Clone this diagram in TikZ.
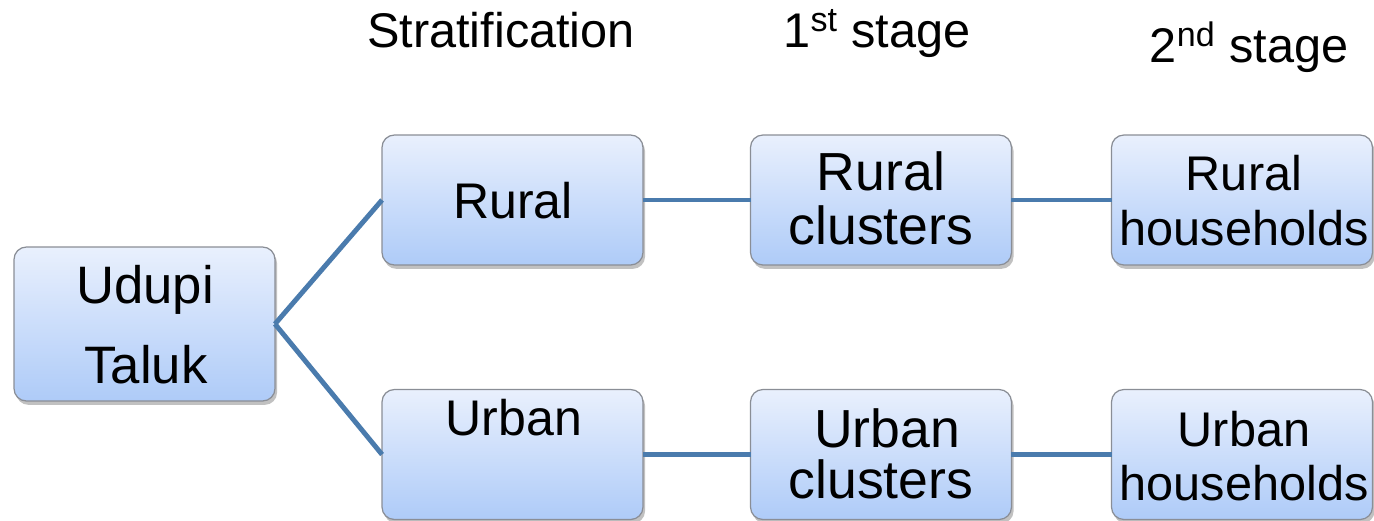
\documentclass[tikz,border=0pt]{standalone}
\usepackage{fontspec}
\setmainfont{Liberation Sans}
\usetikzlibrary{shadows}
\definecolor{boxtop}{HTML}{E9F0FD}
\definecolor{boxbot}{HTML}{AECBF8}
\definecolor{boxline}{HTML}{8A8E96}
\definecolor{conn}{HTML}{4A7BAD}
\tikzset{
  box/.style={draw=boxline, line width=0.7pt, rounded corners=7pt,
    top color=boxtop, bottom color=boxbot, inner sep=0pt, outer sep=0pt,
    minimum width=5.22cm, minimum height=2.6cm,
    drop shadow={shadow xshift=1.2pt, shadow yshift=-2.2pt, opacity=0.35, fill=black!70}},
  conline/.style={draw=conn, line width=2.8pt},
  txt/.style={anchor=base, inner sep=0pt, font=\fontsize{#1}{#1}\selectfont},
  txt/.default=28pt
}
\begin{document}
\begin{tikzpicture}[x=0.02cm, y=-0.02cm]
\useasboundingbox (0,0) rectangle (1374,521);
% boxes
\node[box, minimum height=3.08cm] (udupi) at (144.5,324) {};
\node[box] (rural) at (512.5,200) {};
\node[box] (urban) at (512.5,454.5) {};
\node[box] (rclus) at (881,200) {};
\node[box] (uclus) at (881,454.5) {};
\node[box] (rhh) at (1242,200) {};
\node[box] (uhh) at (1242,454.5) {};
% connectors
\draw[conline] (udupi.east) -- (rural.west);
\draw[conline] (udupi.east) -- (urban.west);
\draw[conline] (rural.east) -- (rclus.west);
\draw[conline] (rclus.east) -- (rhh.west);
\draw[conline] (urban.east) -- (uclus.west);
\draw[conline] (uclus.east) -- (uhh.west);
% texts in boxes
\node[txt=30pt] (udupiA) at (145,303) {Udupi};
\node[txt=30pt] (udupiB) at (146,383) {Taluk};
\node[txt=28.5pt] (ruralT) at (513,218) {Rural};
\node[txt=28.5pt] (urbanT) at (514,435) {Urban};
\node[txt=30.5pt] (rclusA) at (881,190) {Rural};
\node[txt=30.5pt] (rclusB) at (881,244) {clusters};
\node[txt=30.5pt] (uclusA) at (887,447) {Urban};
\node[txt=30.5pt] (uclusB) at (881,498) {clusters};
\node[txt=27.7pt] (rhhA) at (1244,190) {Rural};
\node[txt=27.7pt] (rhhB) at (1244,245) {households};
\node[txt=27.7pt] (uhhA) at (1244,446) {Urban};
\node[txt=27.7pt] (uhhB) at (1244,500) {households};
% headers
\node[txt=27.7pt] (hstrat) at (501,47) {Stratification};
\node[txt=27.7pt] (hfirst) at (877,47) {1\textsuperscript{st} stage};
\node[txt=27.7pt] (hsecond) at (1249,62) {2\textsuperscript{nd} stage};
\end{tikzpicture}
\end{document}
